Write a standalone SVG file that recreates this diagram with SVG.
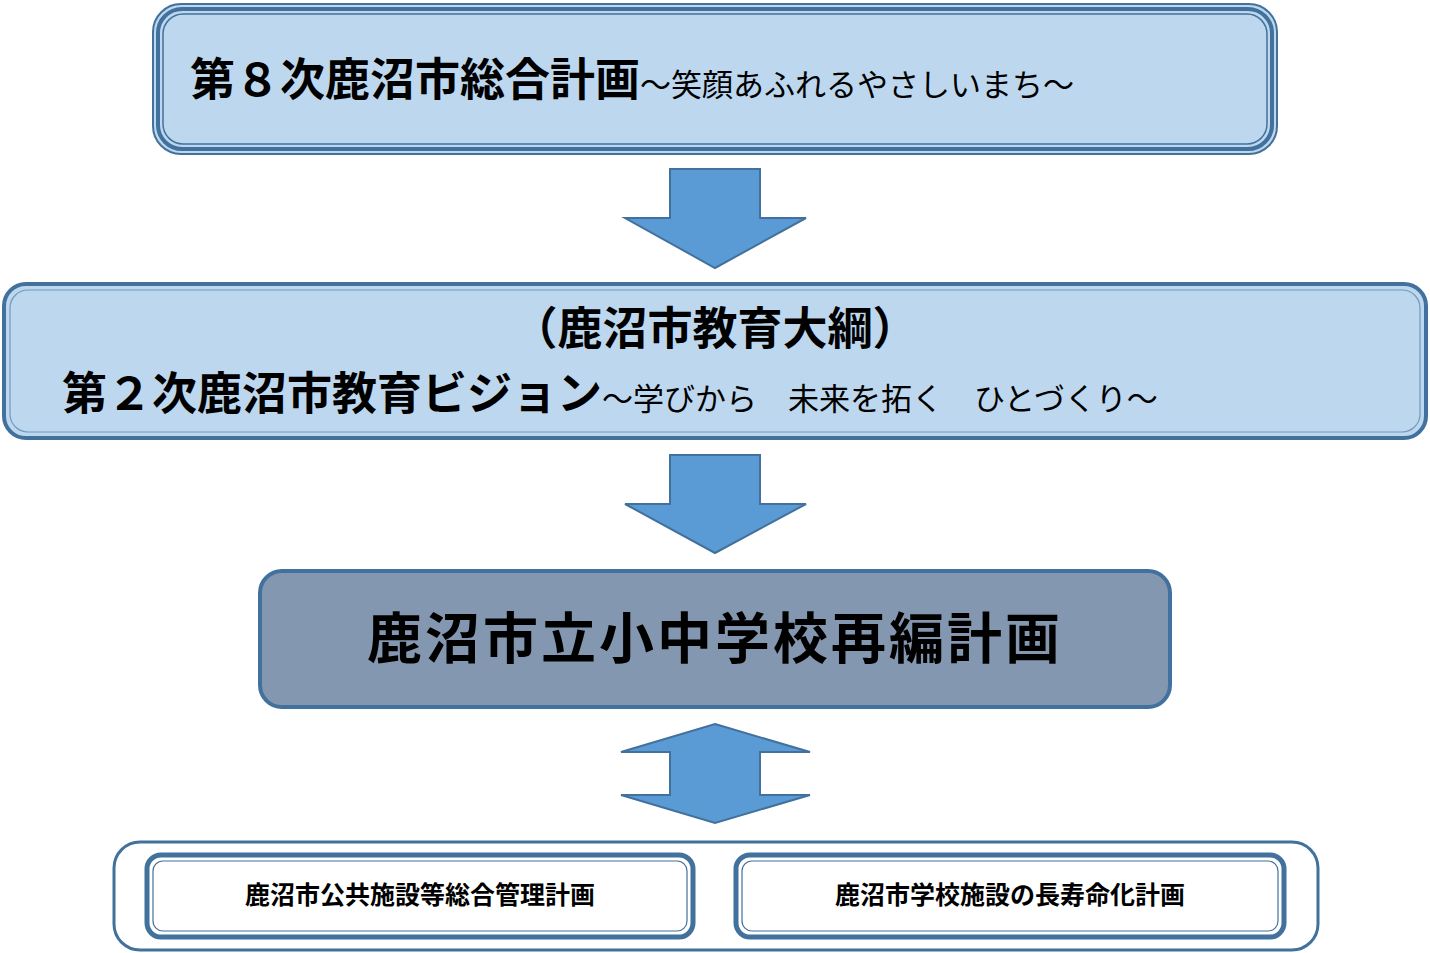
<svg xmlns="http://www.w3.org/2000/svg" width="1430" height="953" viewBox="0 0 1430 953">
<style>
text{font-family:"Noto Sans CJK JP","Noto Sans CJK SC",sans-serif;fill:#000}
.b{font-weight:bold}
.arrow{fill:#5B9BD5;stroke:#41719C;stroke-width:2}
.ln{fill:none;stroke:#41719C}
</style>
<rect width="1430" height="953" fill="#fff"/>
<g id="node1">
<rect x="153" y="4" width="1124" height="150" rx="28" fill="#BDD7EE" stroke="#41719C" stroke-width="2"/>
<rect x="158" y="9" width="1114" height="140" rx="24" class="ln" stroke-width="4"/>
<rect x="163" y="14" width="1104" height="130" rx="20" class="ln" stroke-width="1.5"/>
<text x="190" y="96" font-size="45" class="b">第８次鹿沼市総合計画<tspan font-size="31" font-weight="normal">～笑顔あふれるやさしいまち～</tspan></text>
</g>
<g id="node2">
<rect x="4" y="284" width="1422" height="154" rx="22" fill="#BDD7EE" stroke="#41719C" stroke-width="4"/>
<rect x="10" y="290" width="1410" height="142" rx="18" class="ln" stroke="#fff" stroke-width="1.2" opacity="0.6"/>
<text x="715" y="345" font-size="45" class="b" text-anchor="middle">（鹿沼市教育大綱）</text>
<text x="62" y="410" font-size="45" class="b">第２次鹿沼市教育ビジョン<tspan font-size="31" font-weight="normal">～学びから　未来を拓く　ひとづくり～</tspan></text>
</g>
<g id="node3">
<rect x="260" y="571" width="910" height="136" rx="22" fill="#8497B0" stroke="#41719C" stroke-width="4"/>
<text x="715" y="658" font-size="55" class="b" text-anchor="middle" letter-spacing="3">鹿沼市立小中学校再編計画</text>
</g>
<g id="node4">
<rect x="114" y="842" width="1204" height="108" rx="26" fill="#fff" stroke="#41719C" stroke-width="3"/>
</g>
<g id="node5">
<rect x="147" y="855" width="546" height="82" rx="14" fill="#fff" stroke="#41719C" stroke-width="5"/>
<rect x="153" y="861" width="534" height="70" rx="10" class="ln" stroke-width="1.2"/>
<text x="420" y="904" font-size="25" class="b" text-anchor="middle">鹿沼市公共施設等総合管理計画</text>
</g>
<g id="node6">
<rect x="736" y="855" width="548" height="82" rx="14" fill="#fff" stroke="#41719C" stroke-width="5"/>
<rect x="742" y="861" width="536" height="70" rx="10" class="ln" stroke-width="1.2"/>
<text x="1010" y="904" font-size="25" class="b" text-anchor="middle">鹿沼市学校施設の長寿命化計画</text>
</g>
<g id="connectors">
<polygon class="arrow" points="670,169 760,169 760,218 806,218 715,268 625,218 670,218"/>
<polygon class="arrow" points="670,455 760,455 760,504 806,504 715,553 625,504 670,504"/>
<polygon class="arrow" points="715,724 810,752 760,752 760,795 810,795 715,823 621,795 670,795 670,752 621,752"/>
</g>
</svg>
